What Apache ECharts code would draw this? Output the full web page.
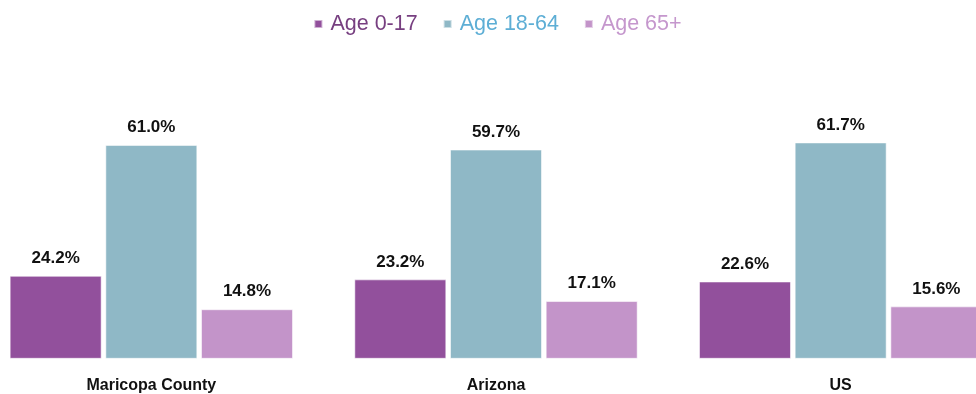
<!DOCTYPE html>
<html>
<head>
<meta charset="utf-8">
<script src="https://cdn.jsdelivr.net/npm/echarts@6/dist/echarts.min.js"></script>
<style>
  html, body { margin: 0; padding: 0; background: #ffffff; overflow: hidden; }
  body { width: 976px; height: 394px; position: relative; }
  /* The plot runs slightly past both page edges, so the canvas is wider than the page */
  #chart { position: absolute; left: -21.4px; top: 0; width: 1034px; height: 394px; }
</style>
</head>
<body>
<div id="chart"></div>
<script>
// Population share by age group (%)
const categories = ['Maricopa County', 'Arizona', 'US'];
const seriesNames = ['Age 0-17', 'Age 18-64', 'Age 65+'];
const age0to17 = [24.2, 23.2, 22.6];
const age18to64 = [61.0, 59.7, 61.7];
const age65plus = [14.8, 17.1, 15.6];

const barColors = ['#92509c', '#8fb8c6', '#c394c9'];
const legendTextColors = ['#773f80', '#5daed5', '#c597cd'];
const valueSets = [age0to17, age18to64, age65plus];

const boldFont = "'Liberation Sans', Arial, sans-serif";

const chart = echarts.init(document.getElementById('chart'), null, { renderer: 'canvas' });

chart.setOption({
  animation: false,
  backgroundColor: '#ffffff',
  legend: {
    left: 329.4,
    top: 8,
    icon: 'rect',
    itemWidth: 8,
    itemHeight: 8,
    itemGap: 25,
    textStyle: {
      fontFamily: "'Liberation Sans', Arial, sans-serif",
      fontSize: 21.5,
      padding: [0, 0, 0, 3]
    },
    data: seriesNames.map((n, i) => ({ name: n, textStyle: { color: legendTextColors[i] } }))
  },
  grid: {
    left: 0,
    right: 0,
    top: 112.9,
    bottom: 35.7,
    containLabel: false
  },
  xAxis: {
    type: 'category',
    data: categories,
    axisLine: { show: false },
    axisTick: { show: false },
    axisLabel: {
      margin: 19,
      color: '#111111',
      fontFamily: boldFont,
      fontWeight: 'bold',
      fontSize: 16
    }
  },
  yAxis: {
    type: 'value',
    min: 1,
    max: 70,
    show: false,
    splitLine: { show: false }
  },
  series: seriesNames.map((name, i) => ({
    name: name,
    type: 'bar',
    data: valueSets[i],
    barWidth: 92,
    barGap: '4%',
    itemStyle: {
      color: barColors[i],
      borderColor: 'rgba(255,255,255,0.55)',
      borderWidth: 1
    },
    label: {
      show: true,
      position: 'top',
      distance: 9,
      formatter: p => p.value.toFixed(1) + '%',
      color: '#111111',
      fontFamily: boldFont,
      fontWeight: 'bold',
      fontSize: 17
    }
  }))
});
</script>
</body>
</html>
